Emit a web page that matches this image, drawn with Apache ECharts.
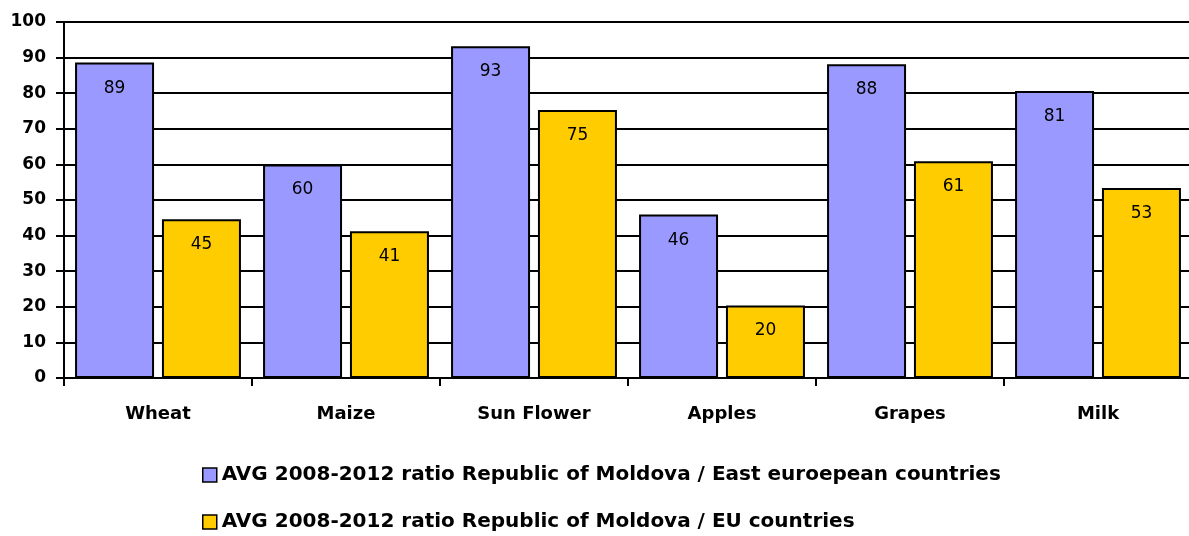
<!DOCTYPE html>
<html><head><meta charset="utf-8">
<script src="https://cdn.jsdelivr.net/npm/echarts@6/dist/echarts.min.js"></script>
<style>html,body{margin:0;padding:0;background:#fff;overflow:hidden}#c{width:1192px;height:536px}</style>
</head><body><div id="c"></div>
<script>
var categories = ['Wheat', 'Maize', 'Sun Flower', 'Apples', 'Grapes', 'Milk'];
var eastValues = [88.6, 60.0, 93.2, 45.9, 88.1, 80.6];
var euValues = [44.6, 41.2, 75.3, 20.4, 60.9, 53.4];
var seriesNames = ['AVG 2008-2012 ratio Republic of Moldova / East euroepean countries',
                   'AVG 2008-2012 ratio Republic of Moldova / EU countries'];
var yTicks = [0, 10, 20, 30, 40, 50, 60, 70, 80, 90, 100];

var FONT = 'DejaVu Sans';
var chart = echarts.init(document.getElementById('c'));
function barSeries(name, data, color) {
  return {
    name: name, type: 'bar', data: data,
    barWidth: 79, barGap: '10%',
    itemStyle: { color: color, borderColor: '#000', borderWidth: 2 },
    label: { show: true, position: 'insideTop', distance: 17, color: '#000',
             fontFamily: FONT, fontSize: 17,
             formatter: function (p) { return Math.round(p.value); } }
  };
}
function legendFor(name, top) {
  return {
    orient: 'horizontal', left: 202, top: top, padding: 0,
    itemWidth: 14, itemHeight: 14, icon: 'rect', itemGap: 0,
    itemStyle: { borderColor: '#000', borderWidth: 1.5 },
    textStyle: { fontFamily: FONT, fontWeight: 'bold', fontSize: 20, lineHeight: 20,
                 color: '#000', padding: [0, 0, 0, 0] },
    data: [name]
  };
}
chart.setOption({
  animation: false,
  grid: { left: 64, right: 0, top: 22, bottom: 158 },
  legend: [legendFor(seriesNames[0], 465), legendFor(seriesNames[1], 512)],
  xAxis: {
    type: 'category', data: categories,
    axisLine: { lineStyle: { color: '#000', width: 2 } },
    axisTick: { show: true, length: 8, lineStyle: { color: '#000', width: 2 } },
    axisLabel: { margin: 27, color: '#000', fontFamily: FONT, fontWeight: 'bold', fontSize: 18 }
  },
  yAxis: {
    type: 'value', min: 0, max: 100, interval: 10,
    axisLine: { show: true, lineStyle: { color: '#000', width: 2 } },
    axisTick: { show: true, length: 8, lineStyle: { color: '#000', width: 2 } },
    splitLine: { lineStyle: { color: '#000', width: 2 } },
    axisLabel: { margin: 18, color: '#000', fontFamily: FONT, fontWeight: 'bold', fontSize: 17,
                 formatter: function (v) { return yTicks.indexOf(v) >= 0 ? v : ''; } }
  },
  series: [barSeries(seriesNames[0], eastValues, '#9999FF'),
           barSeries(seriesNames[1], euValues, '#FFCC00')]
});
</script></body></html>
